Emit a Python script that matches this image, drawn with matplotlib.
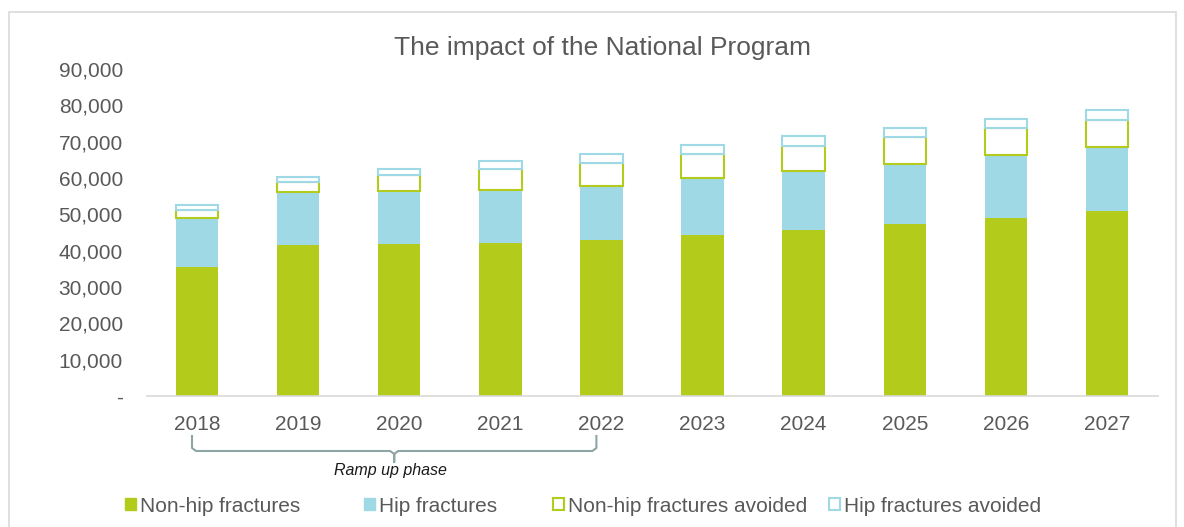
import matplotlib
matplotlib.use('Agg')
import matplotlib.pyplot as plt
import matplotlib.transforms as mtransforms
from matplotlib.patches import Rectangle, Patch
import numpy as np

plt.rcParams['font.family'] = ['Liberation Sans', 'DejaVu Sans']

years = ['2018', '2019', '2020', '2021', '2022', '2023', '2024', '2025', '2026', '2027']
non_hip = [35400, 41500, 41800, 42000, 42900, 44400, 45800, 47400, 49100, 50800]
hip = [13500, 14600, 14500, 14600, 14800, 15600, 16000, 16500, 17100, 17700]
non_hip_avoided = [2200, 2900, 4400, 5800, 6500, 6500, 7000, 7300, 7500, 7600]
hip_avoided = [1400, 1400, 1700, 2200, 2500, 2600, 2700, 2600, 2600, 2700]
labels = ['Non-hip fractures', 'Hip fractures', 'Non-hip fractures avoided', 'Hip fractures avoided']

green = '#b3cb1a'
blue = '#a0d9e6'
grey_text = '#595959'
W, H = 1184, 527

fig = plt.figure(figsize=(W / 100, H / 100), dpi=100)
ax = fig.add_axes([146.5 / W, 1 - 396 / H, (1157.5 - 146.5) / W, (396 - 69) / H])

ind = np.arange(len(years))
width = 0.42
b1 = np.array(non_hip)
b2 = b1 + np.array(hip)
b3 = b2 + np.array(non_hip_avoided)

ax.bar(ind, non_hip, width, color=green, edgecolor='none')
ax.bar(ind, hip, width, bottom=b1, color=blue, edgecolor='none')
ax.bar(ind, non_hip_avoided, width, bottom=b2, color='white', edgecolor=green, linewidth=1.5)
ax.bar(ind, hip_avoided, width, bottom=b3, color='white', edgecolor=blue, linewidth=1.5)

ax.set_xlim(-0.5, len(years) - 0.5)
ax.set_ylim(0, 90000)
ax.set_yticks(np.arange(0, 90001, 10000))
ax.set_yticklabels(['-' if v == 0 else '{:,}'.format(v) for v in range(0, 90001, 10000)])
ax.set_xticks(ind)
ax.set_xticklabels(years)
ax.tick_params(axis='both', length=0, labelsize=15, labelcolor=grey_text)
ax.tick_params(axis='y', pad=17)
ax.tick_params(axis='x', pad=13.5)
for s in ['top', 'right', 'left']:
    ax.spines[s].set_visible(False)
ax.spines['bottom'].set_color('#d9d9d9')
ax.spines['bottom'].set_linewidth(1.2)

fig.text(603 / W, 1 - 48 / H, 'The impact of the National Program', ha='center', va='center',
         fontsize=19, color=grey_text)

# bracket under the ramp up years
tr = mtransforms.blended_transform_factory(ax.transData, fig.transFigure)
def fy(py):
    return 1 - py / H
x0, x1 = -0.05, 3.95
xm = (x0 + x1) / 2
bx = [x0, x0, x0 + 0.04, xm - 0.04, xm, xm, xm, xm + 0.04, x1 - 0.04, x1, x1]
by = [fy(436), fy(448), fy(451), fy(451), fy(454), fy(462), fy(454), fy(451), fy(451), fy(448), fy(436)]
ax.plot(bx, by, color='#8da5a5', linewidth=1.5, transform=tr, clip_on=False)
ax.text(xm - 0.04, fy(471), 'Ramp up phase', transform=tr, ha='center', va='center',
        fontsize=11.5, style='italic', color='#1a1a1a')

# legend, one entry at a time like the Excel layout
handles = [Patch(facecolor=green, edgecolor=green),
           Patch(facecolor=blue, edgecolor=blue),
           Patch(facecolor='white', edgecolor=green, linewidth=1.5),
           Patch(facecolor='white', edgecolor=blue, linewidth=1.5)]
starts = [125, 364, 553, 829]
for h, lab, sx in zip(handles, labels, starts):
    leg = fig.legend([h], [lab], loc='center left', bbox_to_anchor=(sx / W, 1 - 506 / H),
                     frameon=False, fontsize=15, handlelength=0.55, handleheight=0.55,
                     handletextpad=0.15, borderpad=0, borderaxespad=0)
    for t in leg.get_texts():
        t.set_color(grey_text)

fig.patches.append(Rectangle((9 / W, -0.05), (1176 - 9) / W, 1.05 - 12 / H, transform=fig.transFigure,
                             fill=False, edgecolor='#d9d9d9', linewidth=1.2))

fig.savefig('out.png', dpi=100)
